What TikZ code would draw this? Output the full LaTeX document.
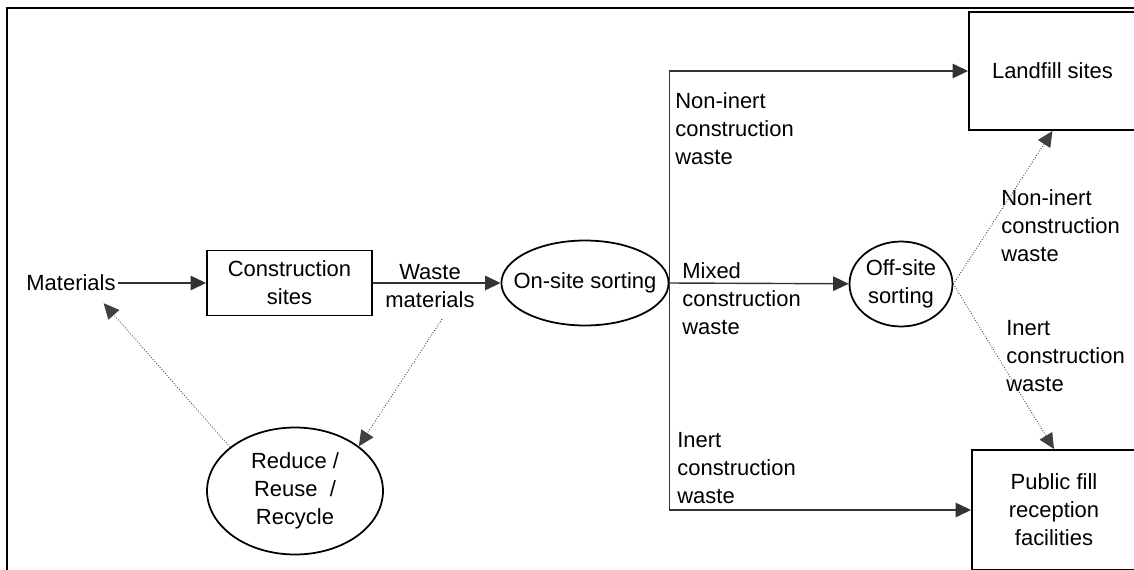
\documentclass[tikz,border=0pt]{standalone}
\usepackage{fontspec}
\setmainfont{Liberation Sans}
\usepackage{tikz}
\usetikzlibrary{arrows.meta}
\usetikzlibrary{calc}
\usetikzlibrary{shapes.geometric}
\tikzset{
	>={Triangle[length=3.1mm, width=2.9mm]},
	pageframe/.style={black, line width=1.2pt},
	box/.style={draw, line width=1.1pt, inner sep=1pt, align=center},
	blob/.style={ellipse, draw, line width=1.0pt, inner sep=0pt, align=center},
	flow/.style={black!80, line width=0.8pt, ->},
	dotflow/.style={black!75, line width=0.5pt, densely dotted, ->},
	lbl/.style={inner sep=0pt, align=left, anchor=north west},
}

\begin{document}
\begin{tikzpicture}[x=0.02cm, y=-0.02cm, font=\fontsize{12.5}{16}\selectfont]
			
			% Page size and outer frame (cut off at right and bottom)
			\useasboundingbox (0,0) rectangle (1134,569);
			\draw[pageframe] (7,8) rectangle (1160,600);
			
			% Boxes and sorting steps
			\node[inner sep=1pt] (materials) at (71,283) {Materials};
			\node[box, minimum width=3.3cm, minimum height=1.3cm] (csites) at (289.5,283) {Construction\\sites};
			\node[blob, inner xsep=-7pt, minimum width=3.32cm, minimum height=1.7cm] (onsite) at (585,283) {On-site sorting};
			\node[blob, minimum width=2.06cm, minimum height=1.7cm] (offsite) at (901,284) {Off-site\\sorting};
			\node[blob, minimum width=3.52cm, minimum height=2.54cm] (recycle) at (295,491) {Reduce /\\Reuse\ \ /\\Recycle};
			\node[box, minimum width=3.34cm, minimum height=2.36cm] (landfill) at (1052.5,71) {Landfill sites};
			\node[box, minimum width=3.28cm, minimum height=2.4cm] (publicfill) at (1054,510) {Public fill\\reception\\facilities};
			
			% Flow labels
			\node[align=center, inner sep=0pt] (wastelbl) at (430,286) {Waste\\materials};
			\node[lbl] (nonlbl) at (675,92) {Non-inert\\construction\\waste};
			\node[lbl] (mixlbl) at (682,262) {Mixed\\construction\\waste};
			\node[lbl] (inertlbl) at (677,432) {Inert\\construction\\waste};
			\node[lbl] (nonrlbl) at (1001,189) {Non-inert\\construction\\waste};
			\node[lbl] (inertrlbl) at (1006,320) {Inert\\construction\\waste};
			
			% Main flow
			\draw[flow] (materials) -- (csites);
			\draw[flow] (csites) -- (onsite);
			\draw[flow] (onsite.east) |- (landfill);
			\draw[flow] (onsite.east) -- (offsite);
			\draw[flow] (onsite.east) |- (publicfill);
			
			% Off-site sorting outputs
			\draw[dotflow] (offsite.east) -- (landfill.south);
			\draw[dotflow] (offsite.east) -- (publicfill.north);
			
			% Reduce / reuse / recycle loop
			\draw[dotflow] ($(wastelbl.south)+(12,11)$) -- (recycle.35);
			\draw[dotflow] (recycle.146) -- ($(materials.south east)+(-14,10)$);
			
		\end{tikzpicture}
\end{document}
